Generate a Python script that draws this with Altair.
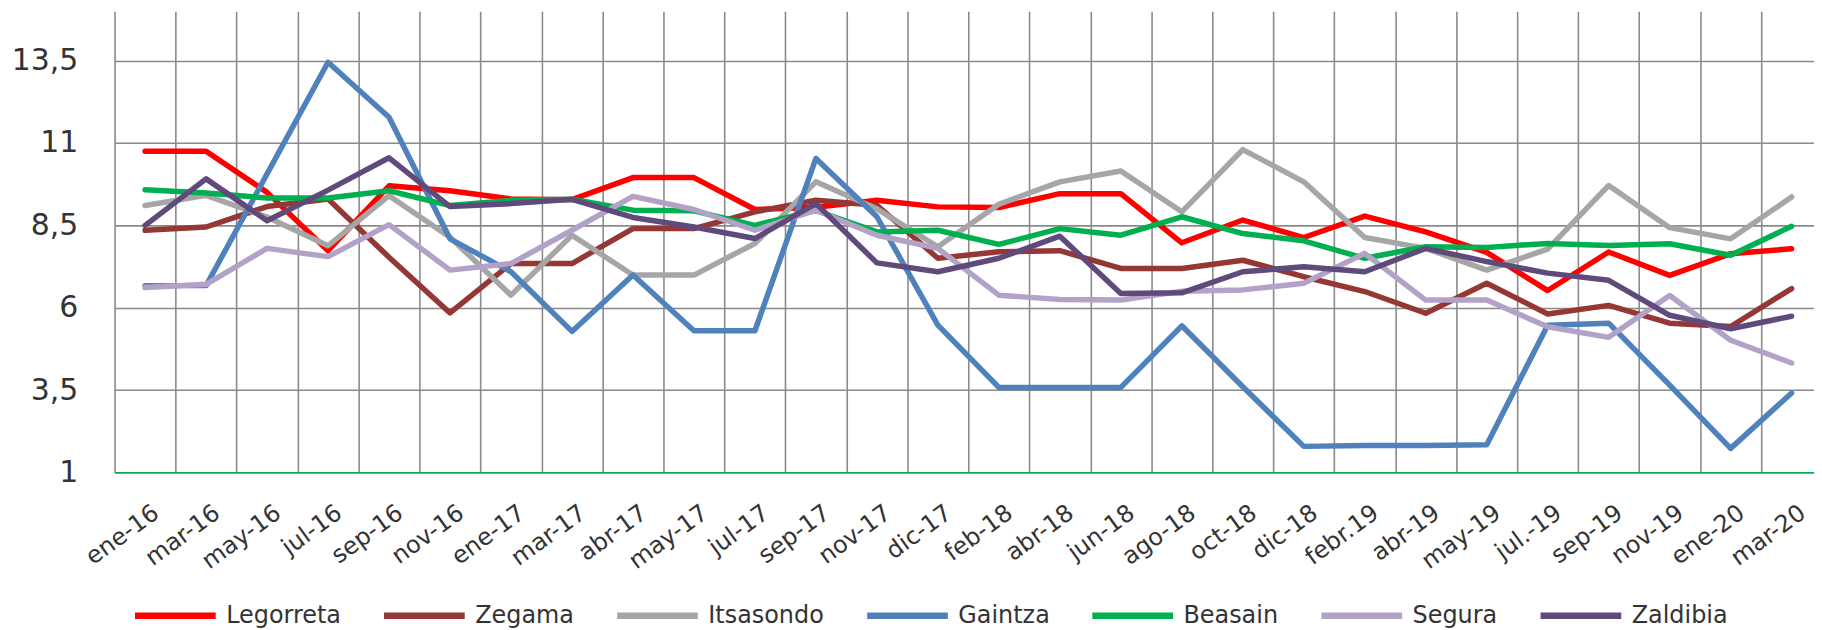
import altair as alt
import pandas as pd

months = ["ene-16", "mar-16", "may-16", "jul-16", "sep-16", "nov-16", "ene-17", "mar-17",
          "abr-17", "may-17", "jul-17", "sep-17", "nov-17", "dic-17", "feb-18", "abr-18",
          "jun-18", "ago-18", "oct-18", "dic-18", "febr.19", "abr-19", "may-19", "jul.-19",
          "sep-19", "nov-19", "ene-20", "mar-20"]

series = ["Legorreta", "Zegama", "Itsasondo", "Gaintza", "Beasain", "Segura", "Zaldibia"]
colors = ["#FF0000", "#953735", "#A6A6A6", "#4F81BD", "#00B050", "#B3A2C7", "#604A7B"]

legorreta = [10.75, 10.75, 9.5, 7.73, 9.7, 9.55, 9.3, 9.28, 9.95, 9.95, 8.98, 9.05, 9.26, 9.06,
             9.04, 9.46, 9.46, 7.97, 8.66, 8.13, 8.78, 8.3, 7.68, 6.52, 7.69, 6.98, 7.64, 7.79]
zegama = [8.35, 8.45, 9.07, 9.3, 7.53, 5.84, 7.34, 7.34, 8.4, 8.4, 8.91, 9.26, 9.11, 7.5,
          7.7, 7.73, 7.19, 7.19, 7.44, 6.94, 6.49, 5.83, 6.74, 5.81, 6.07, 5.53, 5.43, 6.58]
itsasondo = [9.1, 9.41, 8.75, 7.88, 9.4, 8.14, 6.38, 8.2, 6.99, 6.99, 7.95, 9.82, 9.0, 7.85,
             9.14, 9.82, 10.15, 8.91, 10.8, 9.82, 8.13, 7.8, 7.14, 7.78, 9.71, 8.43, 8.09, 9.36]
gaintza = [6.67, 6.67, 10.06, 13.45, 11.78, 8.09, 7.09, 5.28, 6.99, 5.3, 5.3, 10.53, 8.76, 5.47,
           3.58, 3.58, 3.58, 5.45, 3.6, 1.79, 1.82, 1.82, 1.84, 5.47, 5.53, 3.65, 1.73, 3.41]
beasain = [9.58, 9.48, 9.33, 9.33, 9.55, 9.1, 9.26, 9.29, 8.96, 8.94, 8.5, 8.95, 8.3, 8.35,
           7.92, 8.4, 8.2, 8.76, 8.25, 8.03, 7.5, 7.85, 7.83, 7.95, 7.89, 7.94, 7.59, 8.47]
segura = [6.61, 6.71, 7.8, 7.55, 8.52, 7.14, 7.34, 8.35, 9.38, 8.98, 8.35, 8.96, 8.2, 7.8,
          6.38, 6.25, 6.23, 6.5, 6.54, 6.74, 7.65, 6.23, 6.23, 5.42, 5.1, 6.37, 5.01, 4.32]
zaldibia = [8.5, 9.91, 8.64, 9.57, 10.55, 9.07, 9.16, 9.29, 8.74, 8.45, 8.1, 9.16, 7.36, 7.09,
            7.5, 8.17, 6.43, 6.45, 7.09, 7.24, 7.09, 7.8, 7.4, 7.05, 6.83, 5.77, 5.36, 5.74]

y_ticks = [1, 3.5, 6, 8.5, 11, 13.5]

values = dict(zip(series, [legorreta, zegama, itsasondo, gaintza, beasain, segura, zaldibia]))
rows = []
for s in series:
    for i, (m, v) in enumerate(zip(months, values[s])):
        rows.append({"mes": m, "serie": s, "valor": v, "idx": i})
df = pd.DataFrame(rows)

FONT = "DejaVu Sans"
TXT = "#333333"
GRID = "#8a8a8a"
STEP = 61.22

x = alt.X(
    "mes:O", sort=months, title=None,
    scale=alt.Scale(type="point", padding=0.4335, align=0.577),
    axis=alt.Axis(tickOffset=-STEP / 2, labelOffset=STEP / 2 + 11, ticks=False, domain=False,
                  grid=True, gridColor=GRID, gridWidth=1.6, gridOpacity=1,
                  labelAngle=324, labelAlign="right", labelBaseline="middle",
                  labelPadding=38, labelFontSize=24, labelFont=FONT, labelColor=TXT,
                  labelOverlap=False),
)
y = alt.Y(
    "valor:Q", title=None,
    scale=alt.Scale(domain=[1, 15], nice=False, zero=False),
    axis=alt.Axis(values=y_ticks,
                  labelExpr="replace(toString(datum.value), '.', ',')",
                  ticks=False, domain=False, grid=True,
                  gridColor={"condition": {"test": "datum.value === 1", "value": "#00B050"},
                             "value": GRID},
                  gridWidth=1.6, gridOpacity=1,
                  labelPadding=37, labelFontSize=30, labelFont=FONT, labelColor=TXT),
)
color = alt.Color(
    "serie:N", sort=series,
    scale=alt.Scale(domain=series, range=colors),
    legend=alt.Legend(orient="none", legendX=17, legendY=563, direction="horizontal",
                      title=None, symbolType="stroke", symbolSize=6561, symbolStrokeWidth=6.5,
                      labelFontSize=24, labelFont=FONT, labelColor=TXT,
                      columnPadding=29, labelOffset=7, symbolOpacity=1),
)

chart = (
    alt.Chart(df)
    .mark_line(strokeWidth=5.5, strokeCap="round", strokeJoin="round")
    .encode(x=x, y=y, color=color, order=alt.Order("idx:Q"))
    .properties(width=1706, height=463,
                padding={"left": 107, "top": 2, "right": 0, "bottom": 157},
                autosize=alt.AutoSizeParams(type="none"))
    .configure_view(strokeWidth=0)
)

chart.save("out.html", embed_options={"renderer": "svg", "actions": False})
